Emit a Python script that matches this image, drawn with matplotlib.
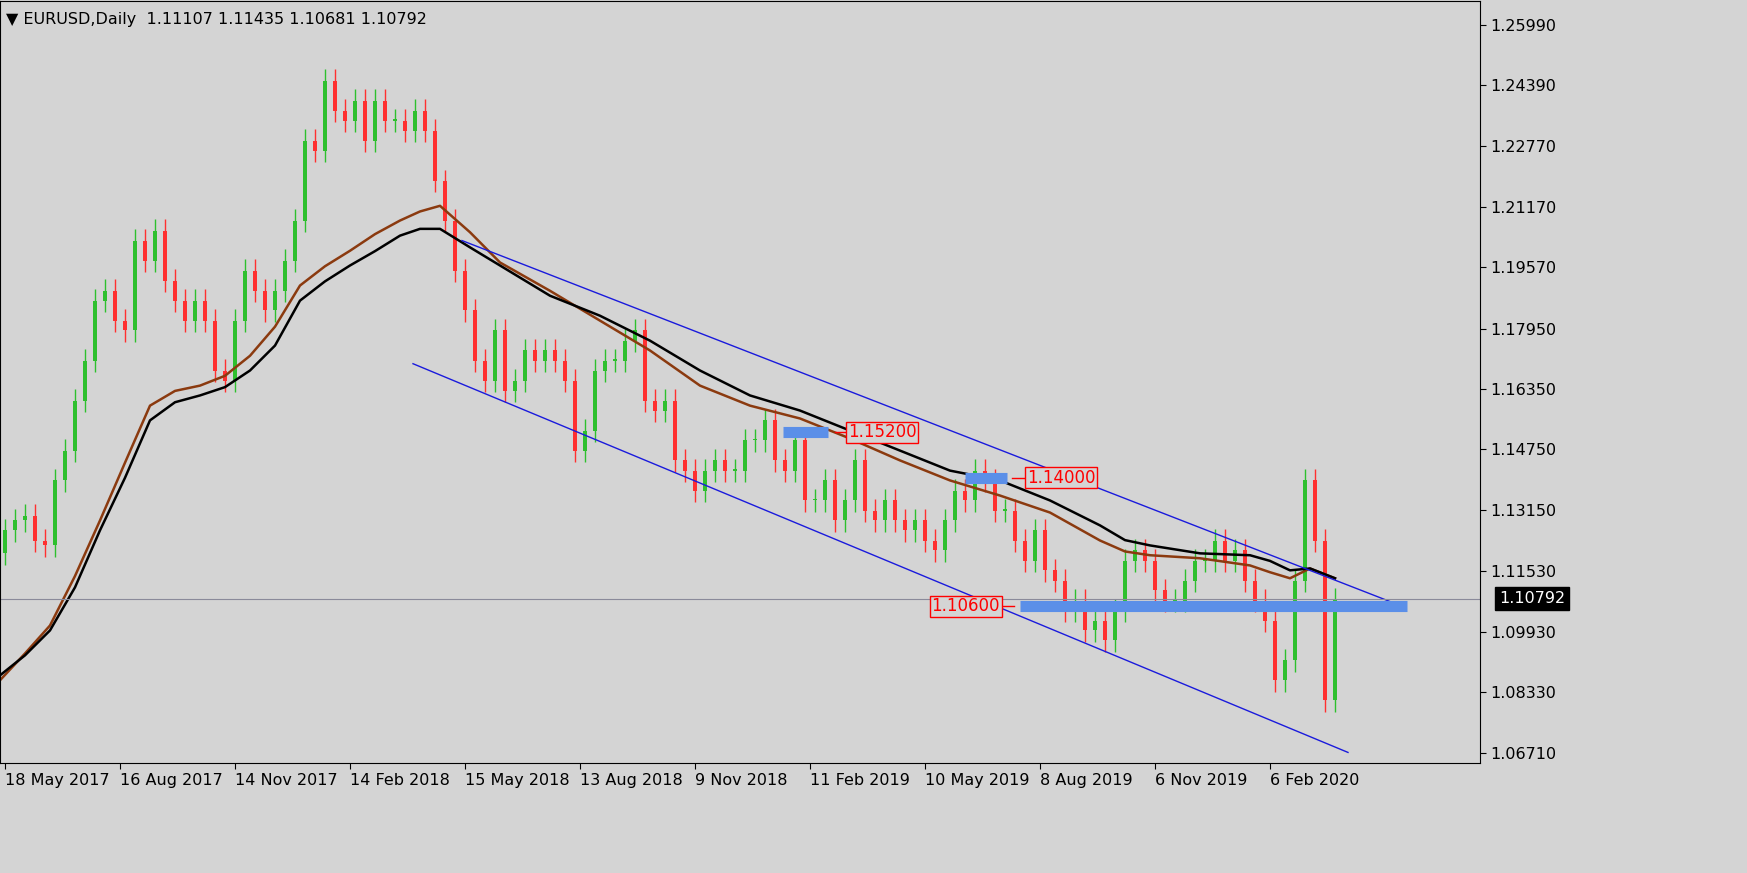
import matplotlib
matplotlib.use("Agg")
import matplotlib.pyplot as plt
import numpy as np

closes = [1.1261,1.1287,1.1300,1.1234,1.1221,1.1393,1.1472,1.1604,1.1710,1.1869,
          1.1895,1.1816,1.1790,1.2028,1.1975,1.2054,1.1922,1.1869,1.1816,1.1869,
          1.1816,1.1684,1.1657,1.1816,1.1948,1.1895,1.1843,1.1895,1.1975,1.2081,
          1.2292,1.2266,1.2451,1.2372,1.2345,1.2398,1.2292,1.2398,1.2345,1.2345,
          1.2319,1.2372,1.2319,1.2186,1.2081,1.1948,1.1843,1.1710,1.1657,1.1790,
          1.1631,1.1657,1.1737,1.1710,1.1737,1.1710,1.1657,1.1472,1.1525,1.1684,
          1.1710,1.1710,1.1763,1.1790,1.1604,1.1578,1.1604,1.1446,1.1419,1.1366,
          1.1419,1.1446,1.1419,1.1419,1.1499,1.1499,1.1552,1.1446,1.1419,1.1499,
          1.1340,1.1340,1.1393,1.1287,1.1340,1.1446,1.1313,1.1287,1.1340,1.1287,
          1.1261,1.1287,1.1234,1.1208,1.1287,1.1366,1.1340,1.1419,1.1393,1.1313,
          1.1313,1.1234,1.1181,1.1261,1.1155,1.1128,1.1049,1.1075,1.0996,1.1022,
          1.0970,1.1049,1.1181,1.1208,1.1181,1.1102,1.1075,1.1075,1.1128,1.1181,
          1.1181,1.1234,1.1181,1.1208,1.1128,1.1075,1.1022,1.0864,1.0917,1.1128,
          1.1393,1.1234,1.0811,1.1079]
opens = [1.1200] + closes[:-1]

ma_x_px = [0,25,50,75,100,125,150,175,200,225,250,275,300,325,350,375,400,420,440,470,500,550,600,650,700,750,800,850,900,950,1000,1050,1100,1125,1150,1200,1250,1270,1290,1310,1335]
ma_black = [1.0877,1.0930,1.0996,1.1110,1.1261,1.1400,1.1552,1.1600,1.1618,1.1640,1.1684,1.1750,1.1869,1.1920,1.1962,1.2000,1.2041,1.2059,1.2059,1.2010,1.1962,1.1882,1.1829,1.1763,1.1684,1.1618,1.1578,1.1525,1.1472,1.1419,1.1393,1.1340,1.1274,1.1235,1.1221,1.1200,1.1195,1.1180,1.1155,1.1160,1.1134]
ma_brown = [1.0864,1.0935,1.1009,1.1140,1.1287,1.1440,1.1591,1.1630,1.1644,1.1670,1.1723,1.1800,1.1909,1.1960,1.2001,1.2045,1.2081,1.2105,1.2120,1.2050,1.1970,1.1895,1.1816,1.1737,1.1644,1.1591,1.1557,1.1504,1.1446,1.1393,1.1353,1.1308,1.1234,1.1205,1.1195,1.1187,1.1168,1.1150,1.1134,1.1160,1.1134]

tick_labels = ["18 May 2017","16 Aug 2017","14 Nov 2017","14 Feb 2018","15 May 2018","13 Aug 2018",
               "9 Nov 2018","11 Feb 2019","10 May 2019","8 Aug 2019","6 Nov 2019","6 Feb 2020"]
y_ticks = [1.25990,1.24390,1.22770,1.21170,1.19570,1.17950,1.16350,1.14750,1.13150,1.11530,1.09930,1.08330,1.06710]
levels = [1.15200,1.14000,1.10600]
last_price = 1.10792

bg = "#d4d4d4"
fig = plt.figure(figsize=(17.47,8.73), dpi=100, facecolor=bg)
ax = fig.add_axes([0.0, 1-763/873, 1480/1747, 763/873-0.001])
ax.set_facecolor(bg)
def px(p): return (np.asarray(p)-5)/10.0

for i,(o,c) in enumerate(zip(opens,closes)):
    col = "#2ec02e" if c>=o else "#ff3030"
    hi = max(o,c)+0.0030; lo = min(o,c)-0.0030
    ax.vlines(i, lo, hi, color=col, lw=1)
    ax.add_patch(plt.Rectangle((i-0.22,min(o,c)),0.44,max(abs(c-o),0.0004),color=col,lw=0))

mx = px(ma_x_px)
ax.plot(mx, ma_brown, color="#8b3a0f", lw=1.8)
ax.plot(mx, ma_black, color="black", lw=1.8)

ax.plot(px([462,1405]),[1.2028,1.1057],color="#1a1adc",lw=1)
ax.plot(px([413,1348]),[1.1702,1.0673],color="#1a1adc",lw=1)

ax.axhline(last_price,color="#8a8a9a",lw=0.8)
seg = [(783,828),(965,1007),(1020,1407)]
for (a,b),lv in zip(seg,levels):
    ax.plot(px([a,b]),[lv,lv],color="#5b8fe8",lw=8,solid_capstyle="butt")
box = dict(boxstyle="square,pad=0.1",fc=bg,ec="red",lw=1)
ax.text(px(848),1.1520,"1.15200",color="red",fontsize=12,va="center",bbox=box)
ax.plot(px([835,846]),[1.152,1.152],color="red",lw=1)
ax.text(px(1027),1.1400,"1.14000",color="red",fontsize=12,va="center",bbox=box)
ax.plot(px([1012,1025]),[1.14,1.14],color="red",lw=1)
ax.text(px(1000),1.1060,"1.10600",color="red",fontsize=12,va="center",ha="right",bbox=box)
ax.plot(px([1002,1014]),[1.106,1.106],color="red",lw=1)

ax.set_xlim(px(0),px(1480))
ax.set_ylim(1.0645,1.26625)
ax.set_xticks([11.5*k for k in range(len(tick_labels))])
ax.set_xticklabels(tick_labels,fontsize=11.5,ha="left")
ax.yaxis.tick_right()
ax.set_yticks(y_ticks)
ax.set_yticklabels([f"{v:.5f}" for v in y_ticks],fontsize=11.5)
ax.tick_params(length=4,color="black")
for s in ax.spines.values(): s.set_color("black")
ax.text(1.013,last_price,f"{last_price:.5f}",transform=ax.get_yaxis_transform(),
        color="white",fontsize=11.5,va="center",ha="left",
        bbox=dict(boxstyle="square,pad=0.25",fc="black",ec="black"))
ax.text(0.004,0.985,"▼ EURUSD,Daily  1.11107 1.11435 1.10681 1.10792",transform=ax.transAxes,
        fontsize=11.5,va="top",ha="left")
fig.savefig("out.png",dpi=100,facecolor=bg)
